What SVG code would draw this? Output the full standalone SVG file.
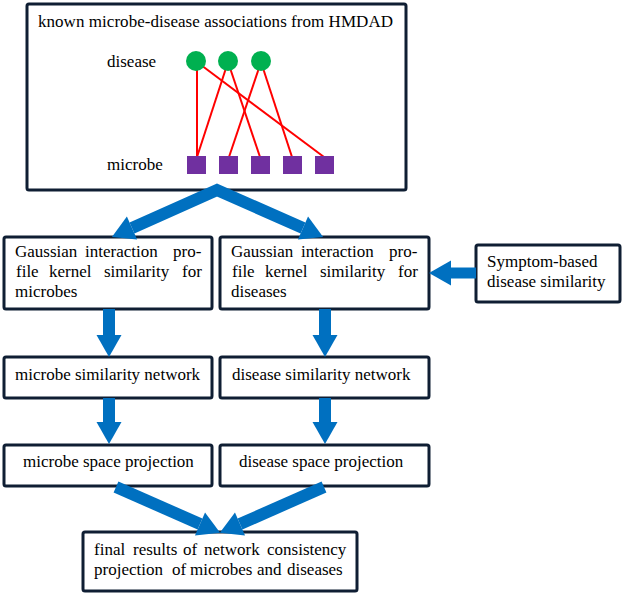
<svg xmlns="http://www.w3.org/2000/svg" width="625" height="593" viewBox="0 0 625 593">
<style>
.box{fill:#fff;stroke:#0f1e33;stroke-width:3}
.t{font-family:"Liberation Serif","Times New Roman",serif;font-size:17px;fill:#000}
.edge{stroke:#ff0000;stroke-width:2;fill:none}
.dis{fill:#00b050}
.mic{fill:#7030a0}
.arr{stroke:#0070c0;stroke-width:12;fill:none;stroke-linejoin:miter;stroke-miterlimit:10}
</style>
<defs>
<marker id="head" markerUnits="userSpaceOnUse" markerWidth="24" markerHeight="28" viewBox="0 -14 24 28" refX="0" refY="0" orient="auto-start-reverse" overflow="visible">
<path d="M0,-12.5 L22,0 L0,12.5 Z" fill="#0070c0"/>
</marker>
</defs>
<g id="hmdad">
<rect class="box" x="27" y="4" width="379" height="186" rx="2"/>
<text class="t" x="38" y="27" textLength="355" lengthAdjust="spacing">known microbe-disease associations from HMDAD</text>
<text class="t" x="107" y="67">disease</text>
<text class="t" x="107" y="170">microbe</text>
<g id="assoc-edges">
<line class="edge" x1="197" y1="62" x2="197" y2="157"/>
<line class="edge" x1="197" y1="62" x2="324" y2="157"/>
<line class="edge" x1="228" y1="62" x2="197" y2="157"/>
<line class="edge" x1="228" y1="62" x2="260" y2="157"/>
<line class="edge" x1="261" y1="62" x2="229" y2="157"/>
<line class="edge" x1="261" y1="62" x2="292" y2="157"/>
</g>
<g id="d1"><circle class="dis" cx="196" cy="61" r="10"/></g>
<g id="d2"><circle class="dis" cx="228" cy="61" r="10"/></g>
<g id="d3"><circle class="dis" cx="261" cy="61" r="10"/></g>
<g id="m1"><rect class="mic" x="187" y="156" width="19" height="18"/></g>
<g id="m2"><rect class="mic" x="219" y="156" width="19" height="18"/></g>
<g id="m3"><rect class="mic" x="251" y="156" width="19" height="18"/></g>
<g id="m4"><rect class="mic" x="283" y="156" width="19" height="18"/></g>
<g id="m5"><rect class="mic" x="315" y="156" width="19" height="18"/></g>
</g>
<g id="gip-microbe">
<rect class="box" x="4" y="237" width="208" height="72" rx="2"/>
<text class="t" y="257"><tspan x="15">Gaussian</tspan><tspan x="85">interaction</tspan><tspan x="173">pro-</tspan></text>
<text class="t" y="277"><tspan x="16">file</tspan><tspan x="49">kernel</tspan><tspan x="104">similarity</tspan><tspan x="182">for</tspan></text>
<text class="t" x="15" y="297">microbes</text>
</g>
<g id="gip-disease">
<rect class="box" x="220" y="237" width="209" height="72" rx="2"/>
<text class="t" y="257"><tspan x="231">Gaussian</tspan><tspan x="301">interaction</tspan><tspan x="389">pro-</tspan></text>
<text class="t" y="277"><tspan x="232">file</tspan><tspan x="265">kernel</tspan><tspan x="320">similarity</tspan><tspan x="398">for</tspan></text>
<text class="t" x="231" y="297">diseases</text>
</g>
<g id="symptom">
<rect class="box" x="476" y="245" width="144" height="57" rx="2"/>
<text class="t" x="487" y="267">Symptom-based</text>
<text class="t" x="487" y="287">disease similarity</text>
</g>
<g id="msn">
<rect class="box" x="4" y="357" width="208" height="41" rx="2"/>
<text class="t" x="15" y="380">microbe similarity network</text>
</g>
<g id="dsn">
<rect class="box" x="220" y="357" width="209" height="41" rx="2"/>
<text class="t" x="232" y="380">disease similarity network</text>
</g>
<g id="msp">
<rect class="box" x="4" y="445" width="208" height="41" rx="2"/>
<text class="t" x="23" y="467">microbe space projection</text>
</g>
<g id="dsp">
<rect class="box" x="220" y="445" width="209" height="41" rx="2"/>
<text class="t" x="239" y="467">disease space projection</text>
</g>
<g id="final">
<rect class="box" x="83" y="532" width="274" height="59" rx="2"/>
<text class="t" y="555"><tspan x="94">final</tspan><tspan x="133">results</tspan><tspan x="183">of</tspan><tspan x="204">network</tspan><tspan x="267">consistency</tspan></text>
<text class="t" y="575"><tspan x="94">projection</tspan><tspan x="172">of</tspan><tspan x="190">microbes</tspan><tspan x="257">and</tspan><tspan x="287">diseases</tspan></text>
</g>
<g id="connectors">
<polyline class="arr" points="132,228 217,190 303,228" marker-start="url(#head)" marker-end="url(#head)"/>
<line class="arr" x1="476" y1="273" x2="451" y2="273" style="stroke-width:11" marker-end="url(#head)"/>
<line class="arr" x1="109" y1="309" x2="109" y2="335" marker-end="url(#head)"/>
<line class="arr" x1="325" y1="309" x2="325" y2="335" marker-end="url(#head)"/>
<line class="arr" x1="109" y1="398" x2="109" y2="422" marker-end="url(#head)"/>
<line class="arr" x1="325" y1="398" x2="325" y2="422" marker-end="url(#head)"/>
<line class="arr" x1="116" y1="487" x2="200" y2="524" marker-end="url(#head)"/>
<line class="arr" x1="324" y1="487" x2="240" y2="524" marker-end="url(#head)"/>
</g>
</svg>
